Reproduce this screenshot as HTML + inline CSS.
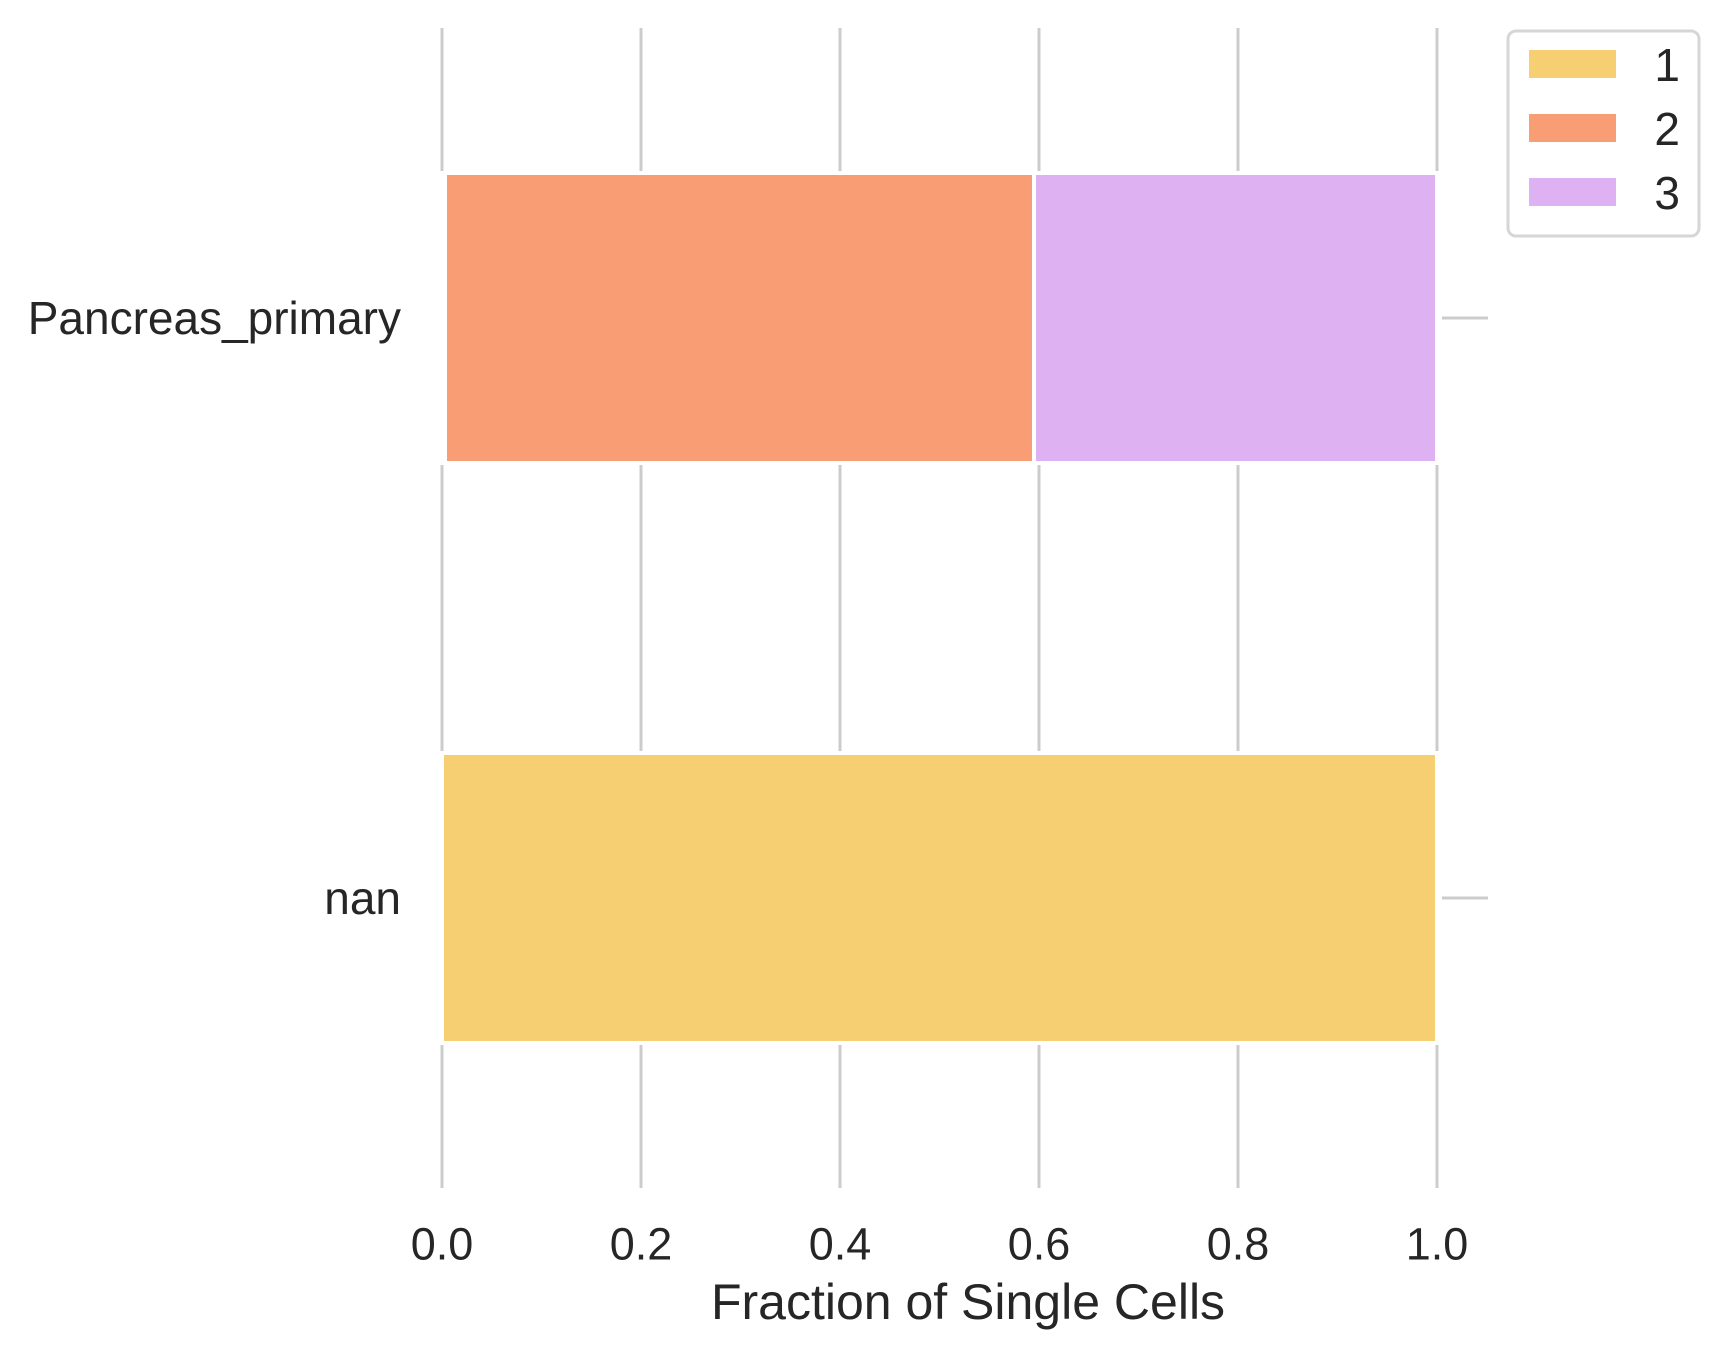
<!DOCTYPE html>
<html><head><meta charset="utf-8"><style>
html,body{margin:0;padding:0;background:#fff}
svg{display:block;font-family:"Liberation Sans",Arial,sans-serif}
</style></head><body>
<svg id="chart" width="1728" height="1359" viewBox="0 0 1728 1359" xmlns="http://www.w3.org/2000/svg">
<g id="grid"></g>
<g id="bars"></g>
<g id="yticks"></g>
<g id="xticks"></g>
<text x="968" y="1302" font-size="50" fill="#262626" text-anchor="middle" dominant-baseline="central">Fraction of Single Cells</text>
<g id="legend"></g>
</svg>
<script>
const categories = ["Pancreas_primary", "nan"];
const seriesNames = ["1", "2", "3"];
const series1 = [0.003, 1.0];
const series2 = [0.592, 0.0];
const series3 = [0.405, 0.0];
const xTicks = [0, 0.2, 0.4, 0.6, 0.8, 1.0];
const xTickLabels = ["0.0", "0.2", "0.4", "0.6", "0.8", "1.0"];
const colors = ["#f5cf72", "#f89d74", "#ddb1f2"];

const NS = "http://www.w3.org/2000/svg";
const X0 = 442, X1 = 1437, YT = 28, YB = 1188;
function xs(v){ return X0 + v * (X1 - X0); }
const band = (YB - YT) / categories.length;
function yc(i){ return YT + band * (i + 0.5); }
function mk(tag, attrs, parent){ const e = document.createElementNS(NS, tag); for (const k in attrs) e.setAttribute(k, attrs[k]); parent.appendChild(e); return e; }

const grid = document.getElementById('grid');
xTicks.forEach((t, i) => {
  const l = mk('line', {x1: xs(t), x2: xs(t), y1: YT, y2: YB, stroke: '#cccccc', 'stroke-width': 3}, grid);
  
  
  const tx = mk('text', {x: xs(t), y: 1244, 'font-size': 45, fill: '#262626', 'text-anchor': 'middle', 'dominant-baseline': 'central'}, document.getElementById('xticks'));
  tx.textContent = xTickLabels[i];
  
  
});

const bars = document.getElementById('bars');
const allSeries = [series1, series2, series3];
const bh = band * 0.5;
categories.forEach((c, i) => {
  let acc = 0;
  allSeries.forEach((s, k) => {
    const v = s[i];
    if (v > 0) {
      const r = mk('rect', {x: xs(acc), y: yc(i) - bh / 2, width: xs(acc + v) - xs(acc), height: bh, fill: colors[k], stroke: '#ffffff', 'stroke-width': 4}, bars);
      
      
    }
    acc += v;
  });
  const yt = document.getElementById('yticks');
  const lab = mk('text', {x: 401, y: yc(i), 'font-size': 46, fill: '#262626', 'text-anchor': 'end', 'dominant-baseline': 'central'}, yt);
  lab.textContent = c;
  
  
  const tk = mk('line', {x1: 1442, x2: 1488, y1: yc(i), y2: yc(i), stroke: '#cccccc', 'stroke-width': 3}, yt);
  
  
});

const lg = document.getElementById('legend');
const box = mk('rect', {x: 1508, y: 31, width: 191, height: 205, rx: 8, fill: '#ffffff', stroke: '#d6d6d6', 'stroke-width': 3}, lg);


seriesNames.forEach((n, k) => {
  const cy = 64 + k * 64;
  const p = mk('rect', {x: 1529, y: cy - 14, width: 87, height: 28, fill: colors[k]}, lg);
  
  
  const t = mk('text', {x: 1680, y: cy + 1, 'font-size': 46, fill: '#262626', 'text-anchor': 'end', 'dominant-baseline': 'central'}, lg);
  t.textContent = n;
  
  
});
</script>
</body></html>
